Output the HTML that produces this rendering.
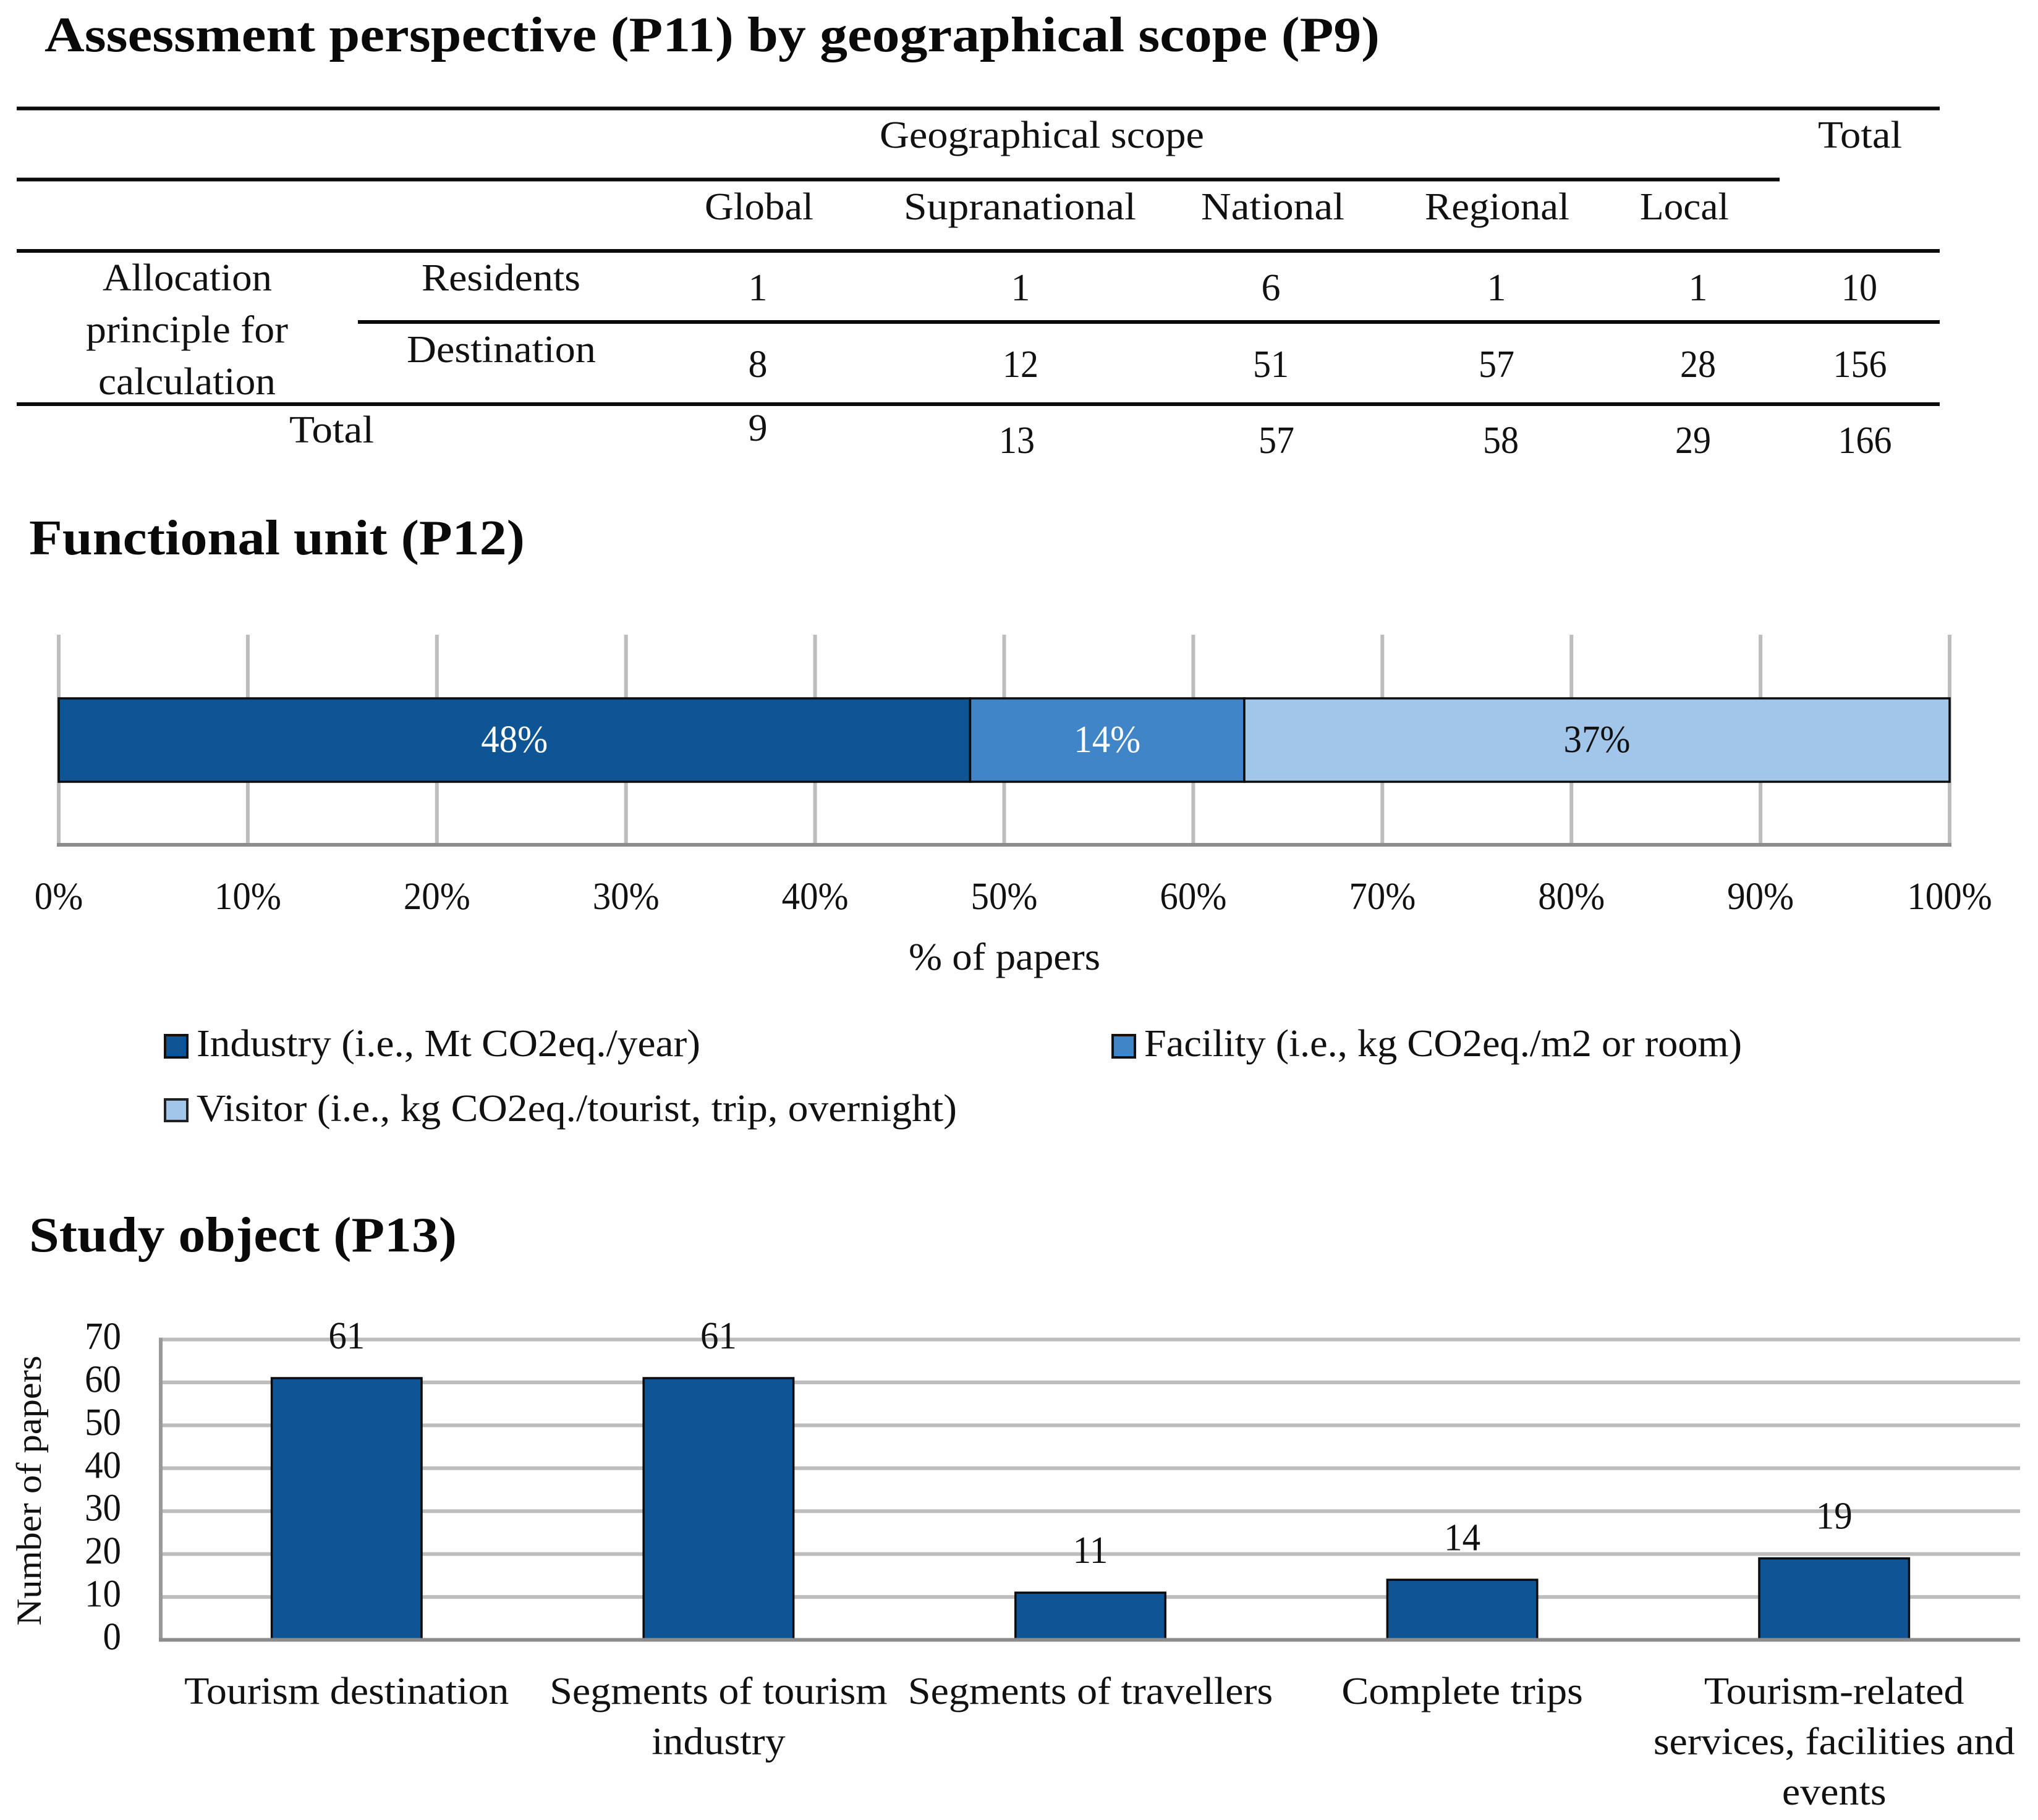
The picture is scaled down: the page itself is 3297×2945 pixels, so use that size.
<!DOCTYPE html>
<html lang="en">
<head>
<meta charset="utf-8">
<title>Assessment perspective, functional unit and study object</title>
<style>
  html, body { margin: 0; padding: 0; background: #ffffff; }
  svg { display: block; }
  text { font-family: "Liberation Serif", serif; fill: #111111; }
  .h { font-size: 80px; font-weight: 700; fill: #0a0a0a; }
  .b { font-size: 62px; }
  .n { font-size: 62px; text-anchor: middle; }
</style>
</head>
<body>
<svg id="figure" xmlns="http://www.w3.org/2000/svg" width="3297" height="2945" viewBox="0 0 3297 2945">
  <rect x="0" y="0" width="3297" height="2945" fill="#ffffff"/>

  <text class="h" x="72" y="83" textLength="2160" lengthAdjust="spacingAndGlyphs">Assessment perspective (P11) by geographical scope (P9)</text>

  <g>
    <g fill="#0a0a0a">
      <rect x="27" y="172.5" width="3111" height="6"/>
      <rect x="27" y="287.5" width="2852" height="6"/>
      <rect x="27" y="403" width="3111" height="6"/>
      <rect x="579" y="518" width="2559" height="6"/>
      <rect x="27" y="651" width="3111" height="6"/>
    </g>

    <text class="b" x="1423" y="239" textLength="525" lengthAdjust="spacingAndGlyphs">Geographical scope</text>
    <text class="b" x="2941" y="239" textLength="136" lengthAdjust="spacingAndGlyphs">Total</text>
    <text class="b" x="1140" y="355" textLength="176" lengthAdjust="spacingAndGlyphs">Global</text>
    <text class="b" x="1462" y="355" textLength="376" lengthAdjust="spacingAndGlyphs">Supranational</text>
    <text class="b" x="1943" y="355" textLength="232" lengthAdjust="spacingAndGlyphs">National</text>
    <text class="b" x="2305" y="355" textLength="234" lengthAdjust="spacingAndGlyphs">Regional</text>
    <text class="b" x="2653" y="355" textLength="144" lengthAdjust="spacingAndGlyphs">Local</text>

    <text class="b" x="166" y="470" textLength="274" lengthAdjust="spacingAndGlyphs">Allocation</text>
    <text class="b" x="139" y="554" textLength="327" lengthAdjust="spacingAndGlyphs">principle for</text>
    <text class="b" x="159" y="638" textLength="287" lengthAdjust="spacingAndGlyphs">calculation</text>
    <text class="b" x="682" y="470" textLength="257" lengthAdjust="spacingAndGlyphs">Residents</text>
    <text class="b" x="658" y="586" textLength="306" lengthAdjust="spacingAndGlyphs">Destination</text>
    <text class="b" x="468" y="716" textLength="137" lengthAdjust="spacingAndGlyphs">Total</text>

    <text class="n" x="1226" y="486">1</text>
    <text class="n" x="1651" y="486">1</text>
    <text class="n" x="2056" y="486">6</text>
    <text class="n" x="2421" y="486">1</text>
    <text class="n" x="2747" y="486">1</text>
    <text class="n" x="3008" y="486" textLength="58" lengthAdjust="spacingAndGlyphs">10</text>

    <text class="n" x="1226" y="610">8</text>
    <text class="n" x="1651" y="610" textLength="58" lengthAdjust="spacingAndGlyphs">12</text>
    <text class="n" x="2056" y="610" textLength="58" lengthAdjust="spacingAndGlyphs">51</text>
    <text class="n" x="2421" y="610" textLength="58" lengthAdjust="spacingAndGlyphs">57</text>
    <text class="n" x="2747" y="610" textLength="58" lengthAdjust="spacingAndGlyphs">28</text>
    <text class="n" x="3009" y="610" textLength="87" lengthAdjust="spacingAndGlyphs">156</text>

    <text class="n" x="1226" y="713">9</text>
    <text class="n" x="1645" y="733" textLength="58" lengthAdjust="spacingAndGlyphs">13</text>
    <text class="n" x="2065" y="733" textLength="58" lengthAdjust="spacingAndGlyphs">57</text>
    <text class="n" x="2428" y="733" textLength="58" lengthAdjust="spacingAndGlyphs">58</text>
    <text class="n" x="2739" y="733" textLength="58" lengthAdjust="spacingAndGlyphs">29</text>
    <text class="n" x="3017" y="733" textLength="87" lengthAdjust="spacingAndGlyphs">166</text>
  </g>

  <text class="h" x="47" y="897" textLength="802" lengthAdjust="spacingAndGlyphs">Functional unit (P12)</text>
  <g id="functional-chart"></g>

  <text class="b" x="1470" y="1569" textLength="310" lengthAdjust="spacingAndGlyphs">% of papers</text>

  <g>
    <g>
      <rect x="267" y="1675" width="36" height="36" fill="#0e5595" stroke="#111111" stroke-width="4"/>
      <text class="b" x="318" y="1709" textLength="815" lengthAdjust="spacingAndGlyphs">Industry (i.e., Mt CO2eq./year)</text>
    </g>
    <g>
      <rect x="1800" y="1675" width="36" height="36" fill="#3f85c8" stroke="#111111" stroke-width="4"/>
      <text class="b" x="1851" y="1709" textLength="967" lengthAdjust="spacingAndGlyphs">Facility (i.e., kg CO2eq./m2 or room)</text>
    </g>
    <g>
      <rect x="267" y="1779" width="36" height="35" fill="#a1c6ea" stroke="#222222" stroke-width="4"/>
      <text class="b" x="318" y="1814" textLength="1230" lengthAdjust="spacingAndGlyphs">Visitor (i.e., kg CO2eq./tourist, trip, overnight)</text>
    </g>
  </g>

  <text class="h" x="47" y="2025" textLength="692" lengthAdjust="spacingAndGlyphs">Study object (P13)</text>
  <g id="study-chart"></g>
  <text font-size="57" text-anchor="middle" transform="translate(66,2412) rotate(-90)" textLength="437" lengthAdjust="spacingAndGlyphs">Number of papers</text>
</svg>

<script>
// Functional unit chart data
const functionalSeries = ['Industry', 'Facility', 'Visitor'];
const functionalShares = [48.2, 14.5, 37.3];
const functionalLabels = ['48%', '14%', '37%'];
const percentTicks = [0, 10, 20, 30, 40, 50, 60, 70, 80, 90, 100];

// Study object chart data
const studyCategories = [
  ['Tourism destination'],
  ['Segments of tourism', 'industry'],
  ['Segments of travellers'],
  ['Complete trips'],
  ['Tourism-related', 'services, facilities and', 'events']
];
const studyCounts = [61, 61, 11, 14, 19];
const countTicks = [0, 10, 20, 30, 40, 50, 60, 70];

const NS = 'http://www.w3.org/2000/svg';
function mk(tag, attrs, parent, txt) {
  const el = document.createElementNS(NS, tag);
  for (const k in attrs) el.setAttribute(k, attrs[k]);
  if (txt !== undefined) el.textContent = txt;
  parent.appendChild(el);
  return el;
}
function at(x, y, sx) {
  return 'translate(' + x + ',' + y + ') scale(' + sx + ',1)';
}

// ---------- Functional unit: stacked horizontal bar ----------
(function () {
  const g = document.getElementById('functional-chart');
  const x0 = 95, x1 = 3154, yTop = 1027, yAxis = 1367, barTop = 1130, barBottom = 1265;
  const fills = ['#0e5595', '#3f85c8', '#a1c6ea'];
  const inks = ['#ffffff', '#ffffff', '#111111'];
  const xScale = v => x0 + (v / 100) * (x1 - x0);

  percentTicks.forEach(t => {
    const grid = mk('line', { x1: xScale(t), x2: xScale(t), y1: yTop, y2: yAxis, stroke: '#bdbdbd', 'stroke-width': 6 }, g);
    
    
    const label = mk('text', { transform: at(xScale(t), 1471, 0.95), 'font-size': 62, 'text-anchor': 'middle' }, g, t + '%');
    
    
  });

  const axis = mk('line', { x1: x0 - 3, x2: x1 + 3, y1: yAxis, y2: yAxis, stroke: '#8c8c8c', 'stroke-width': 6 }, g);
  
  

  let cum = 0;
  functionalShares.forEach((v, i) => {
    const a = xScale(cum), b = xScale(cum + v);
    const seg = mk('rect', { x: a, y: barTop, width: b - a, height: barBottom - barTop, fill: fills[i], stroke: '#0c0c0c', 'stroke-width': 3.5 }, g);
    
    
    const lab = mk('text', { transform: at((a + b) / 2, 1217, 0.95), 'font-size': 62, 'text-anchor': 'middle', style: 'fill:' + inks[i] }, g, functionalLabels[i]);
    
    
    cum += v;
  });
})();

// ---------- Study object: vertical bars ----------
(function () {
  const g = document.getElementById('study-chart');
  const xL = 260, xR = 3268, y0 = 2653.5, y70 = 2167.5;
  const yScale = v => y0 - (v / 70) * (y0 - y70);
  const step = (xR - xL) / studyCounts.length;
  const barW = step * 0.403;
  const xCenter = i => xL + step * (i + 0.5);

  countTicks.forEach(t => {
    if (t > 0) {
      const grid = mk('line', { x1: xL, x2: xR, y1: yScale(t), y2: yScale(t), stroke: '#bdbdbd', 'stroke-width': 6 }, g);
      
      
    }
    const label = mk('text', { transform: at(196, yScale(t) + 15.5, 0.95), 'font-size': 62, 'text-anchor': 'end' }, g, String(t));
    
    
  });

  const yAxisLine = mk('line', { x1: xL, x2: xL, y1: y70 - 3, y2: y0 + 3, stroke: '#999999', 'stroke-width': 6 }, g);
  
  

  studyCounts.forEach((v, i) => {
    const bar = mk('rect', { x: xCenter(i) - barW / 2, y: yScale(v), width: barW, height: y0 - yScale(v), fill: '#0e5595', stroke: '#0c0c0c', 'stroke-width': 3.5 }, g);
    
    
    const val = mk('text', { transform: at(xCenter(i), yScale(v) - 48, 0.95), 'font-size': 62, 'text-anchor': 'middle' }, g, String(v));
    
    
    studyCategories[i].forEach((line, j) => {
      const cat = mk('text', { 'font-size': 62, 'text-anchor': 'middle', transform: at(xCenter(i), 2757 + j * 81.5, 1.065) }, g, line);
      
      
    });
  });

  const axis = mk('line', { x1: xL - 3, x2: xR, y1: y0, y2: y0, stroke: '#8c8c8c', 'stroke-width': 6 }, g);
  
  
})();
</script>
</body>
</html>
